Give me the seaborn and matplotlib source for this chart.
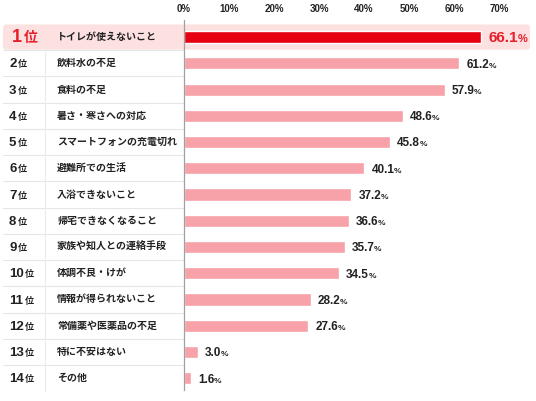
import matplotlib
matplotlib.use("Agg")
import matplotlib.pyplot as plt
import matplotlib.transforms as mtrans
from matplotlib.patches import FancyBboxPatch
import seaborn as sns
import pandas as pd

ranks = ["1", "2", "3", "4", "5", "6", "7", "8", "9", "10", "11", "12", "13", "14"]
items = ["トイレが使えないこと", "飲料水の不足", "食料の不足", "暑さ・寒さへの対応",
         "スマートフォンの充電切れ", "避難所での生活", "入浴できないこと",
         "帰宅できなくなること", "家族や知人との連絡手段", "体調不良・けが",
         "情報が得られないこと", "常備薬や医薬品の不足", "特に不安はない", "その他"]
values = [66.1, 61.2, 57.9, 48.6, 45.8, 40.1, 37.2, 36.6, 35.7, 34.5, 28.2, 27.6, 3.0, 1.6]
xticks = [0, 10, 20, 30, 40, 50, 60, 70]
xtick_labels = ["0%", "10%", "20%", "30%", "40%", "50%", "60%", "70%"]

RED = "#E60012"
PINK = "#F7A1A8"
BAND = "#FDE1E1"
JP = ["Noto Sans CJK JP", "DejaVu Sans"]
NUM = ["Liberation Sans", "Noto Sans CJK JP", "DejaVu Sans"]

sns.set_theme(style="white")
plt.rcParams["font.family"] = JP

W, H = 536, 401
fig = plt.figure(figsize=(W / 100, H / 100), dpi=100)
ax = fig.add_axes([184 / W, 1 - 390 / H, (75 * 4.5) / W, 370 / H])
ax.set_facecolor("none")

df = pd.DataFrame({"item": items, "value": values})
palette = {it: (RED if i == 0 else PINK) for i, it in enumerate(items)}
sns.barplot(data=df, x="value", y="item", hue="item", palette=palette,
            orient="h", width=0.46, legend=False, ax=ax, saturation=1, zorder=2)

ax.set_xlim(0, 75)
ax.set_ylim(13.45, -0.65)
ax.set_yticks([])
ax.set_xlabel("")
ax.set_ylabel("")
ax.xaxis.tick_top()
ax.set_xticks(xticks)
ax.set_xticklabels(xtick_labels, fontsize=7, fontweight="bold", family=NUM, color="#222222")
ax.tick_params(axis="x", length=0, pad=4)
for s in ["top", "right", "bottom"]:
    ax.spines[s].set_visible(False)
ax.spines["left"].set_color("#a0a0a0")
ax.spines["left"].set_linewidth(0.9)

bt = mtrans.blended_transform_factory(fig.transFigure, ax.transData)

# highlight band for first row
band = FancyBboxPatch((3 / W, -0.48), 527 / W, 0.96, boxstyle="round,pad=0,rounding_size=0.005",
                      transform=bt, facecolor=BAND, edgecolor="none", clip_on=False, zorder=0.5,
                      mutation_aspect=30)
ax.add_patch(band)

# separators
for i in range(len(items) - 1):
    ax.plot([3 / W, 183 / W], [i + 0.5, i + 0.5], transform=bt, color="#e6e6e6",
            lw=0.8, clip_on=False, zorder=1)
ax.plot([45 / W, 45 / W], [0.5, 13.5], transform=bt, color="#ececec", lw=0.8,
        clip_on=False, zorder=1)

# row labels
for i, (r, it) in enumerate(zip(ranks, items)):
    first = i == 0
    col = "#E5202A" if first else "#222222"
    t = ax.text((12 if first else 9) / W, i + (0.2 if first else 0.16), r, transform=bt,
                fontsize=13 if first else 9.5, fontweight="bold", family=NUM, color=col,
                va="baseline", ha="left", clip_on=False)
    ax.annotate("位", xy=(1, i + (0.2 if first else 0.16)), xycoords=(t, "data"),
                xytext=(1, 0), textcoords="offset points",
                fontsize=10 if first else 6.5, fontweight="bold", family=JP, color=col,
                va="baseline", ha="left", annotation_clip=False)
    ax.text(57 / W, i, it, transform=bt, fontsize=7.2, fontweight="bold", color="#222222",
            va="center", ha="left", clip_on=False)

# value labels
for i, v in enumerate(values):
    first = i == 0
    col = "#E5202A" if first else "#222222"
    yb = i + (0.2 if first else 0.17)
    t = ax.annotate(f"{v:.1f}", xy=(v, yb), xytext=(5, 0), textcoords="offset points",
                    fontsize=11 if first else 8.5, fontweight="bold", family=NUM, color=col,
                    va="baseline", ha="left", annotation_clip=False)
    ax.annotate("%", xy=(1, yb), xycoords=(t, "data"), xytext=(-0.3, 0), textcoords="offset points",
                fontsize=8 if first else 6, fontweight="bold", family=NUM, color=col,
                va="baseline", ha="left", annotation_clip=False)

fig.savefig("out.png", dpi=100, facecolor="white")
